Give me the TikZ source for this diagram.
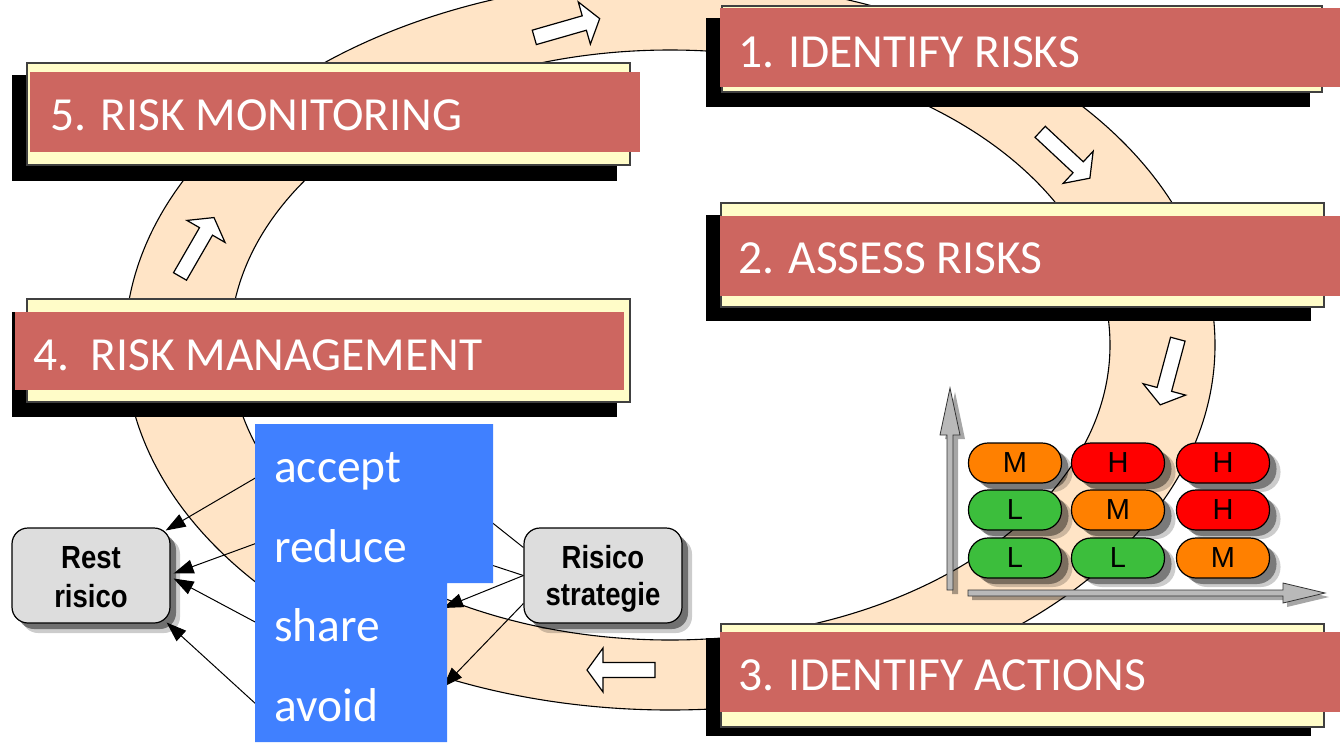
\documentclass[tikz,border=0pt]{standalone}
\usepackage{fontspec}
\setmainfont{Carlito}
\newfontfamily\arialf{Liberation Sans}
\newfontfamily\condf[FakeStretch=0.86]{Liberation Sans}
\usetikzlibrary{arrows.meta,calc,shadows}
\definecolor{peach}{RGB}{255,228,198}
\definecolor{cream}{RGB}{255,252,200}
\definecolor{bannerred}{RGB}{205,102,96}
\definecolor{stratblue}{RGB}{64,128,255}
\definecolor{boxgray}{RGB}{221,221,221}
\definecolor{mOrange}{RGB}{255,128,0}
\definecolor{mRed}{RGB}{255,0,0}
\definecolor{mGreen}{RGB}{60,190,60}
\definecolor{axisgray}{RGB}{185,185,185}
\newcommand\blockarr[3]{\draw[blockarrow,shift={(#1,#2)},rotate=#3] (-34,-7.5) -- (18,-7.5) -- (18,-22) -- (34,0) -- (18,22) -- (18,7.5) -- (-34,7.5) -- cycle;}
\begin{document}
\begin{tikzpicture}[x=1pt,y=-1pt,
  ringline/.style={draw=black,line width=1.1pt},
  blockarrow/.style={draw=black,fill=white,line width=1.2pt,line join=miter},
  cardshadow/.style={fill=black},
  cardbox/.style={fill=cream,draw=black!75,line width=1.2pt},
  banner/.style={fill=bannerred},
  bannertext/.style={anchor=base west,inner sep=0pt,text=white,font=\fontsize{47.5}{57}\selectfont},
  stratext/.style={anchor=base west,inner sep=0pt,text=white,font=\fontsize{47.5}{57}\selectfont},
  graybox/.style={draw=black,line width=1.2pt,fill=boxgray,rounded corners=16pt,minimum width=158pt,minimum height=95pt,inner sep=0pt,
     general shadow={fill=black,opacity=.2,shadow xshift=10pt,shadow yshift=-10pt},
     general shadow={fill=black,opacity=.45,shadow xshift=6pt,shadow yshift=-6pt}},
  boxtext/.style={anchor=base,inner sep=0pt,font=\condf\bfseries\fontsize{32}{38}\selectfont},
  conn/.style={draw=black,line width=1pt},
  endtip/.style={-{Triangle[length=20pt,width=14pt]}},
  bubble/.style={draw=black,line width=1.2pt,rounded corners=19.5pt,minimum width=93pt,minimum height=40pt,inner sep=0pt,
     font=\arialf\fontsize{29}{29}\selectfont,
     general shadow={fill=black,opacity=.2,shadow xshift=11pt,shadow yshift=-9pt},
     general shadow={fill=black,opacity=.4,shadow xshift=7pt,shadow yshift=-6pt}},
  axisbar/.style={fill=axisgray,draw=black!80,line width=0.8pt,line join=miter},
  axisshadow/.style={fill=black,opacity=.35},
]
\useasboundingbox (0,0) rectangle (1340,742);
\clip (0,0) rectangle (1340,742);
\fill[white] (0,0) rectangle (1340,742);

% ring
\fill[peach,even odd rule] (670,345) ellipse [x radius=545,y radius=365] (670,345) ellipse [x radius=440,y radius=295];
\draw[ringline] (670,345) ellipse [x radius=545,y radius=365];
\draw[ringline] (670,345) ellipse [x radius=440,y radius=295];

% direction arrows in the ring
\blockarr{567}{28}{16}
\blockarr{1065}{155}{-43}
\blockarr{1169}{372}{-105}
\blockarr{621}{670}{180}
\blockarr{197}{247}{60}

% card 1
\fill[cardshadow] (706,18) rectangle (1310,107);
\draw[cardbox] (722,6) rectangle (1322,92);
\fill[banner] (720,8) rectangle (1340,87);
\node[bannertext] (c1) at (738,67) {1. IDENTIFY RISKS};
% card 2
\fill[cardshadow] (706,215) rectangle (1311,321);
\draw[cardbox] (721,203) rectangle (1324,307);
\fill[banner] (720,216) rectangle (1340,296);
\node[bannertext] (c2) at (738,273) {2. ASSESS RISKS};
% card 3
\fill[cardshadow] (706,638) rectangle (1311,736);
\draw[cardbox] (721,624) rectangle (1324,727);
\fill[banner] (720,632) rectangle (1340,712);
\node[bannertext] (c3) at (738,690) {3. IDENTIFY ACTIONS};
% card 5
\fill[cardshadow] (12,75) rectangle (617,181);
\draw[cardbox] (27,63) rectangle (630,165);
\fill[banner] (30,72) rectangle (640,152);
\node[bannertext] (c5) at (50,130) {5. RISK MONITORING};
% card 4
\fill[cardshadow] (12,312) rectangle (617,417);
\draw[cardbox] (27,299) rectangle (630,402);
\fill[banner] (15,312) rectangle (624,390);
\node[bannertext] (c4) at (33,370) {4.\ \ RISK MANAGEMENT};

% matrix axes
\fill[axisshadow] (952,594) -- (952,439) -- (945,439) -- (955,392) -- (965,439) -- (958,439) -- (958,594) -- cycle;
\fill[axisshadow] (972,594) -- (1287,594) -- (1287,587) -- (1329,597) -- (1287,607) -- (1287,600) -- (972,600) -- cycle;
\draw[axisbar] (947,590) -- (947,435) -- (940,435) -- (950,388) -- (960,435) -- (953,435) -- (953,590) -- cycle;
\draw[axisbar] (968,590) -- (1283,590) -- (1283,583) -- (1325,593) -- (1283,603) -- (1283,596) -- (968,596) -- cycle;

% matrix bubbles
\node[bubble,fill=mOrange] (m11) at (1015,463) {M};
\node[bubble,fill=mRed]    (m12) at (1118,463) {H};
\node[bubble,fill=mRed]    (m13) at (1223,463) {H};
\node[bubble,fill=mGreen]  (m21) at (1015,510) {L};
\node[bubble,fill=mOrange] (m22) at (1118,510) {M};
\node[bubble,fill=mRed]    (m23) at (1223,510) {H};
\node[bubble,fill=mGreen]  (m31) at (1015,558) {L};
\node[bubble,fill=mGreen]  (m32) at (1118,558) {L};
\node[bubble,fill=mOrange] (m33) at (1223,558) {M};

% gray boxes
\node[graybox] (rr) at (91,575.5) {};
\node[graybox] (rs) at (603,575.5) {};
\node[boxtext] (rrA) at (91,568) {Rest};
\node[boxtext] (rrB) at (91,607) {risico};
\node[boxtext] (rsA) at (603,568) {Risico};
\node[boxtext] (rsB) at (603,605) {strategie};

% connectors
\coordinate (pa) at (257,477);
\coordinate (pr) at (257,543);
\coordinate (ps) at (257,623);
\coordinate (pv) at (257,705);
\coordinate (qa) at (470,505);
\coordinate (qr) at (470,558);
\coordinate (qs) at (443,608);
\coordinate (qv) at (443,687);
\draw[conn,endtip] (pa) -- ($(rr.east)+(-5,-45)$);
\draw[conn,endtip] (pr) -- ($(rr.east)+(3,-2)$);
\draw[conn,endtip] (ps) -- ($(rr.east)+(3,3)$);
\draw[conn,endtip] (pv) -- ($(rr.east)+(-4,47)$);
\draw[conn] ($(rs.west)+(0,-28)$) -- (qa);
\draw[conn] (rs.west) -- (qr);
\draw[conn,endtip] (rs.west) -- (qs);
\draw[conn,endtip] ($(rs.west)+(0,28)$) -- (qv);

% blue strategy panel
\fill[stratblue] (255,424) -- (493,424) -- (493,583) -- (447,583) -- (447,742) -- (255,742) -- cycle;
\node[stratext] (sA) at (274,482) {accept};
\node[stratext] (sR) at (274,562) {reduce};
\node[stratext] (sS) at (274,641) {share};
\node[stratext] (sV) at (274,721) {avoid};
\end{tikzpicture}
\end{document}
